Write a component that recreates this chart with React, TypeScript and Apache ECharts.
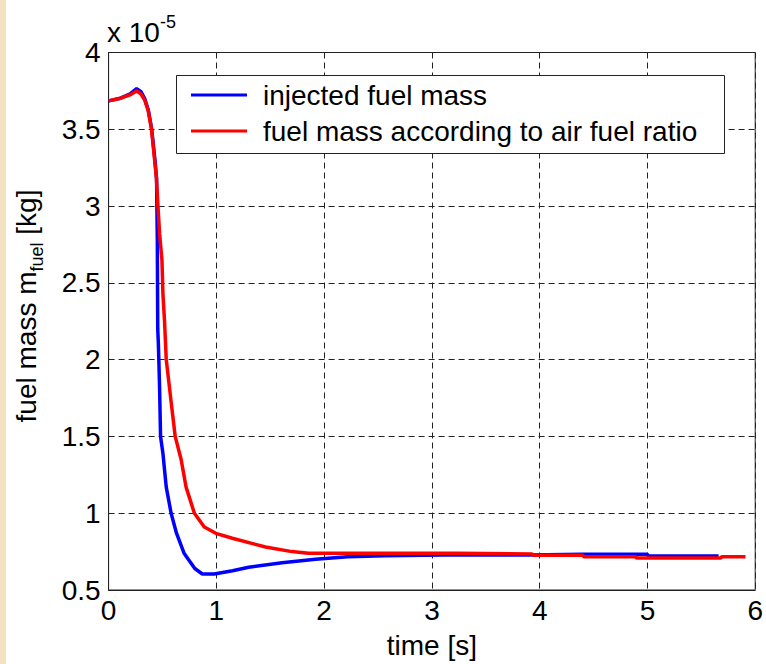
import React, { useEffect, useRef } from "react";
import * as echarts from "echarts";

// Fuel mass per cycle during a load step, in units of 1e-5 kg.
const injectedTime = [
  0, 0.1, 0.2, 0.26, 0.3, 0.335, 0.37, 0.4, 0.43, 0.445, 0.452, 0.456, 0.462,
  0.473, 0.482, 0.504, 0.535, 0.58, 0.63, 0.7, 0.8, 0.87, 0.98, 1.15, 1.3,
  1.61, 1.92, 2.22, 2.56, 3.11, 3.9, 4.4, 5.0, 5.01, 5.66,
];
const injectedMass = [
  3.685, 3.7, 3.73, 3.765, 3.745, 3.7, 3.62, 3.5, 3.3, 3.18, 2.78, 2.2, 2.1,
  1.82, 1.5, 1.39, 1.17, 1.0, 0.87, 0.74, 0.64, 0.604, 0.604, 0.625, 0.648,
  0.678, 0.7, 0.717, 0.723, 0.728, 0.728, 0.732, 0.732, 0.721, 0.721,
];

const afrTime = [
  0, 0.1, 0.2, 0.26, 0.3, 0.335, 0.366, 0.397, 0.427, 0.443, 0.458, 0.473,
  0.495, 0.504, 0.519, 0.535, 0.581, 0.618, 0.673, 0.719, 0.796, 0.888, 0.995,
  1.148, 1.456, 1.7, 1.855, 3.24, 3.93, 3.94, 4.4, 4.41, 4.89, 4.9, 5.68, 5.69,
  5.91,
];
const afrMass = [
  3.685, 3.7, 3.725, 3.75, 3.73, 3.69, 3.625, 3.506, 3.3, 3.19, 3.0, 2.82,
  2.65, 2.43, 2.25, 2.0, 1.72, 1.5, 1.35, 1.17, 1.0, 0.91, 0.869, 0.837, 0.78,
  0.75, 0.739, 0.739, 0.734, 0.726, 0.726, 0.717, 0.717, 0.708, 0.708, 0.717,
  0.717,
];

const seriesNames = [
  "injected fuel mass",
  "fuel mass according to air fuel ratio",
];

const FONT = "'Liberation Sans', Arial, Helvetica, sans-serif";
const FS = 28;

const pairs = (xs: number[], ys: number[]) => xs.map((x, i) => [x, ys[i]]);

export default function App() {
  const ref = useRef<HTMLDivElement>(null);

  useEffect(() => {
    if (!ref.current) return;
    const chart = echarts.init(ref.current, null, { renderer: "svg" });

    const dashed = { color: "#222", width: 1, type: [6, 4] as number[] };

    chart.setOption({
      animation: false,
      backgroundColor: "#ffffff",
      grid: {
        left: 108.6,
        right: 6,
        top: 52.5,
        bottom: 74,
        show: true,
        borderColor: "#222",
        borderWidth: 1,
        backgroundColor: "#ffffff",
      },
      xAxis: {
        type: "value",
        min: 0,
        max: 6,
        interval: 1,
        name: "time [s]",
        nameLocation: "middle",
        nameGap: 41,
        nameTextStyle: { fontFamily: FONT, fontSize: FS, color: "#000" },
        axisLine: { show: true, lineStyle: { color: "#222", width: 1 } },
        axisTick: { show: false },
        axisLabel: {
          fontFamily: FONT,
          fontSize: FS,
          color: "#000",
          margin: 6,
        },
        splitLine: { show: true, lineStyle: dashed },
      },
      yAxis: {
        type: "value",
        min: 0.5,
        max: 4,
        interval: 0.5,
        axisLine: { show: true, lineStyle: { color: "#222", width: 1 } },
        axisTick: { show: false },
        axisLabel: {
          fontFamily: FONT,
          fontSize: FS,
          color: "#000",
          margin: 8,
        },
        splitLine: { show: true, lineStyle: dashed },
      },
      legend: {
        orient: "vertical",
        left: 191,
        top: 80,
        padding: 0,
        itemWidth: 56,
        itemHeight: 3,
        itemGap: 6,
        icon: "rect",
        z: 5,
        textStyle: {
          fontFamily: FONT,
          fontSize: FS,
          color: "#000",
          lineHeight: 30,
          padding: [0, 0, 0, 11],
        },
        data: seriesNames,
      },
      graphic: [
        {
          type: "rect",
          shape: { x: 0, y: 0, width: 6, height: 664 },
          style: { fill: "#f3e2c1" },
          z: 10,
        },
        {
          type: "rect",
          shape: { x: 176.5, y: 75.5, width: 548, height: 78 },
          style: { fill: "#ffffff", stroke: "#222", lineWidth: 1 },
          z: 3,
        },
        {
          type: "text",
          x: 107,
          y: 32.5,
          style: {
            text: "{a|x 10}{b|-5}",
            textAlign: "left",
            textVerticalAlign: "middle",
            rich: {
              a: { fontFamily: FONT, fontSize: FS, lineHeight: 40, fill: "#000" },
              b: {
                fontFamily: FONT,
                fontSize: 18,
                lineHeight: 14,
                verticalAlign: "top",
                fill: "#000",
              },
            },
          },
        },
        {
          type: "text",
          x: 26,
          y: 306,
          rotation: Math.PI / 2,
          style: {
            text: "{a|fuel mass m}{b|fuel}{a| [kg]}",
            textAlign: "center",
            textVerticalAlign: "middle",
            rich: {
              a: { fontFamily: FONT, fontSize: FS, lineHeight: 40, fill: "#000" },
              b: {
                fontFamily: FONT,
                fontSize: 18,
                lineHeight: 10,
                verticalAlign: "bottom",
                fill: "#000",
              },
            },
          },
        },
      ],
      series: [
        {
          name: seriesNames[0],
          type: "line",
          data: pairs(injectedTime, injectedMass),
          showSymbol: false,
          symbol: "none",
          lineStyle: { color: "#0000ff", width: 3.5 },
          itemStyle: { color: "#0000ff" },
          z: 2,
        },
        {
          name: seriesNames[1],
          type: "line",
          data: pairs(afrTime, afrMass),
          showSymbol: false,
          symbol: "none",
          lineStyle: { color: "#ff0000", width: 3.5 },
          itemStyle: { color: "#ff0000" },
          z: 2,
        },
      ],
    });

    return () => chart.dispose();
  }, []);

  return (
    <div
      ref={ref}
      style={{ position: "absolute", left: 0, top: 0, width: 766, height: 664 }}
    />
  );
}
